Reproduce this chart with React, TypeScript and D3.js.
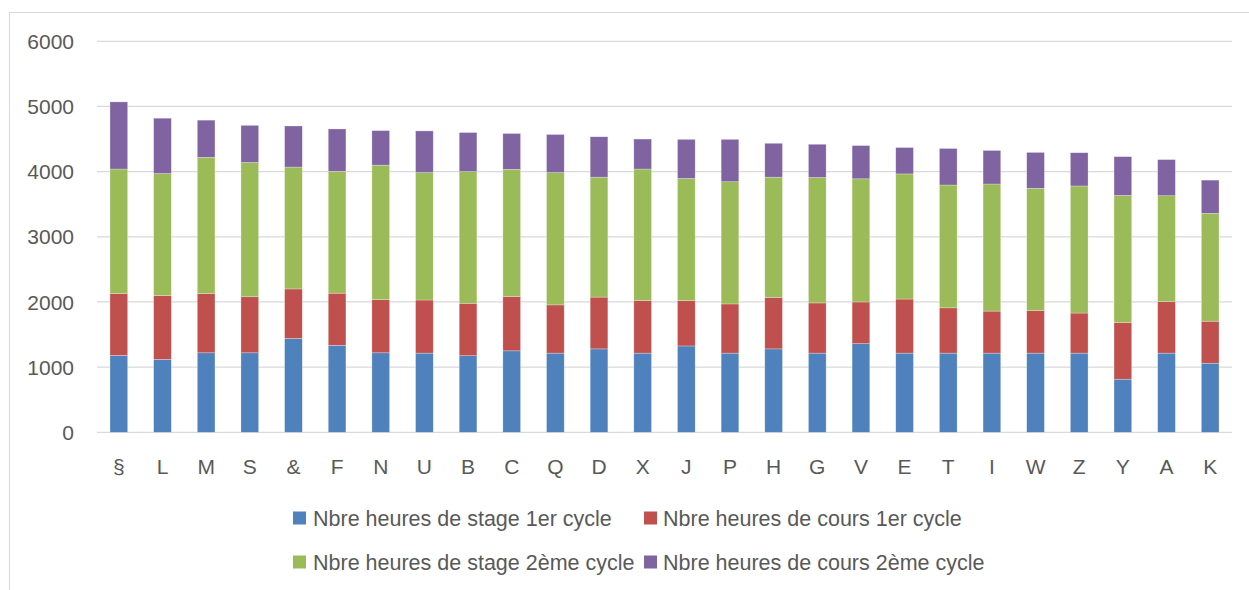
import React from 'react';
import * as d3 from 'd3';

const categories = ['§', 'L', 'M', 'S', '&', 'F', 'N', 'U', 'B', 'C', 'Q', 'D', 'X', 'J', 'P', 'H', 'G', 'V', 'E', 'T', 'I', 'W', 'Z', 'Y', 'A', 'K'];

const stage1 = [1180, 1120, 1220, 1220, 1440, 1335, 1220, 1215, 1175, 1250, 1215, 1280, 1215, 1325, 1215, 1280, 1215, 1360, 1215, 1215, 1215, 1215, 1215, 815, 1215, 1060];
const cours1 = [950, 980, 910, 860, 760, 800, 815, 815, 805, 835, 740, 795, 805, 695, 755, 790, 770, 640, 830, 695, 645, 655, 615, 870, 790, 645];
const stage2 = [1910, 1870, 2090, 2060, 1870, 1870, 2065, 1955, 2020, 1950, 2030, 1840, 2020, 1875, 1875, 1845, 1925, 1890, 1920, 1885, 1950, 1875, 1950, 1950, 1625, 1655];
const cours2 = [1030, 850, 570, 570, 630, 650, 530, 640, 600, 550, 585, 620, 460, 600, 650, 520, 510, 510, 405, 560, 515, 550, 510, 595, 555, 510];

const seriesNames = [
  'Nbre heures de stage 1er cycle',
  'Nbre heures de cours 1er cycle',
  'Nbre heures de stage 2ème cycle',
  'Nbre heures de cours 2ème cycle',
];
const colors = ['#4F81BD', '#C0504D', '#9BBB59', '#8064A2'];
const yTicks = [0, 1000, 2000, 3000, 4000, 5000, 6000];

const W = 1249;
const H = 590;
const FONT = '"Liberation Sans", Arial, sans-serif';

export default function App() {
  // one row per category, keyed by series index
  const rows = categories.map((c, i) => ({
    cat: c,
    s0: stage1[i],
    s1: cours1[i],
    s2: stage2[i],
    s3: cours2[i],
  }));
  const stacked = d3.stack<any>().keys(['s0', 's1', 's2', 's3'])(rows);

  const x = d3.scaleBand().domain(categories).range([97, 1232]).paddingInner(0.595).paddingOuter(0.2975);
  const y = d3.scaleLinear().domain([0, 6000]).range([432.3, 41.3]);

  const legendPos = [
    { sx: 293, tx: 313, y: 518 },
    { sx: 644, tx: 663, y: 518 },
    { sx: 293, tx: 313, y: 562 },
    { sx: 644, tx: 663, y: 562 },
  ];

  return (
    <div style={{ position: 'absolute', left: 0, top: 0 }}>
      <svg width={W} height={H} style={{ display: 'block', background: '#fff' }}>
        {/* chart frame */}
        <rect x={9.5} y={12.5} width={1260} height={600} fill="#fff" stroke="#D9D9D9" strokeWidth={1} />

        {/* grid */}
        {yTicks.map((t) => (
          <g key={t}>
            <line x1={97} x2={1232} y1={y(t)} y2={y(t)} stroke="#D9D9D9" strokeWidth={1.3} />
            <text x={74} y={y(t)} dy="0.36em" textAnchor="end" fontFamily={FONT} fontSize={21} fill="#595959">
              {t}
            </text>
          </g>
        ))}

        {/* bars */}
        {stacked.map((layer, si) => (
          <g key={si} fill={colors[si]}>
            {layer.map((d, i) => (
              <rect
                key={i}
                x={x(categories[i])}
                width={x.bandwidth()}
                y={y(d[1])}
                height={y(d[0]) - y(d[1])}
                stroke="#ffffff"
                strokeOpacity={0.45}
                strokeWidth={0.6}
              />
            ))}
          </g>
        ))}

        {/* x labels */}
        {categories.map((c) => (
          <text
            key={c}
            x={(x(c) as number) + x.bandwidth() / 2}
            y={466}
            dy="0.36em"
            textAnchor="middle"
            fontFamily={FONT}
            fontSize={21}
            fill="#595959"
          >
            {c}
          </text>
        ))}

        {/* legend */}
        {seriesNames.map((n, i) => (
          <g key={n}>
            <rect x={legendPos[i].sx} y={legendPos[i].y - 6.5} width={13} height={13} fill={colors[i]} />
            <text x={legendPos[i].tx} y={legendPos[i].y} dy="0.36em" fontFamily={FONT} fontSize={21.5} fill="#595959">
              {n}
            </text>
          </g>
        ))}
      </svg>
    </div>
  );
}
